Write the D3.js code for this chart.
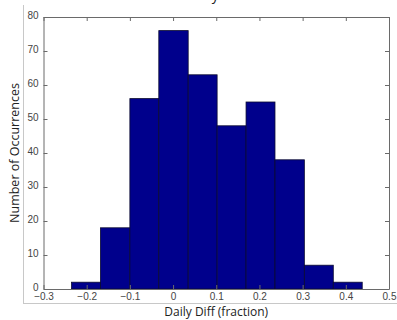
<!DOCTYPE html>
<html>
<head>
<meta charset="utf-8">
<script src="https://cdn.jsdelivr.net/npm/d3@7"></script>
<style>
  body { margin: 0; background: #fff; }
  svg { display: block; }
</style>
</head>
<body>
<div id="chart"></div>
<script>
// histogram bin edges (fraction) and counts per bin
const binEdges = [-0.235, -0.168, -0.100, -0.033, 0.035, 0.102, 0.169, 0.236, 0.304, 0.371, 0.438];
const counts = [2, 18, 56, 76, 63, 48, 55, 38, 7, 2];
const xTicks = [-0.3, -0.2, -0.1, 0, 0.1, 0.2, 0.3, 0.4, 0.5];
const yTicks = [0, 10, 20, 30, 40, 50, 60, 70, 80];

const width = 397, height = 320;
const margin = {top: 17, right: 8, bottom: 31, left: 43.5};
const innerW = width - margin.left - margin.right;
const innerH = height - margin.top - margin.bottom;

const svg = d3.select("#chart").append("svg")
  .attr("width", width)
  .attr("height", height);

// screenshot frame lines
svg.append("line").attr("x1", 23.5).attr("x2", 23.5).attr("y1", 5).attr("y2", 304)
  .attr("stroke", "#c8c8c8");
svg.append("line").attr("x1", 23.5).attr("x2", width).attr("y1", 303.5).attr("y2", 303.5)
  .attr("stroke", "#c8c8c8");

const g = svg.append("g")
  .attr("transform", "translate(" + margin.left + "," + margin.top + ")");

const x = d3.scaleLinear().domain([-0.3, 0.5]).range([0, innerW]);
const y = d3.scaleLinear().domain([0, 80]).range([innerH, 0]);

const bins = counts.map((c, i) => ({x0: binEdges[i], x1: binEdges[i + 1], value: c}));

g.selectAll("rect.bar")
  .data(bins)
  .enter()
  .append("rect")
  .attr("class", "bar")
  .attr("x", d => x(d.x0))
  .attr("y", d => y(d.value))
  .attr("width", d => x(d.x1) - x(d.x0))
  .attr("height", d => innerH - y(d.value))
  .attr("fill", "#00008c")
  .attr("stroke", "#0a0a30")
  .attr("stroke-width", 0.8);

const fmt = d => d === 0 ? "0" : d3.format(".1f")(d);

// axes, ticks pointing inward
const xAxis = g.append("g")
  .attr("transform", "translate(0," + innerH + ")")
  .call(d3.axisBottom(x).tickValues(xTicks).tickFormat(fmt).tickSizeInner(-4).tickSizeOuter(0).tickPadding(4));
const xTop = g.append("g")
  .call(d3.axisTop(x).tickValues(xTicks).tickFormat("").tickSizeInner(-4).tickSizeOuter(0));
const yAxis = g.append("g")
  .call(d3.axisLeft(y).tickValues(yTicks).tickSizeInner(-4).tickSizeOuter(0).tickPadding(5));
const yRight = g.append("g")
  .attr("transform", "translate(" + innerW + ",0)")
  .call(d3.axisRight(y).tickValues(yTicks).tickFormat("").tickSizeInner(-4).tickSizeOuter(0));

[xAxis, xTop, yAxis, yRight].forEach(a => {
  a.select(".domain").attr("stroke", "#6a6a6a");
  a.selectAll(".tick line").attr("stroke", "#6a6a6a");
  a.selectAll("text")
    .attr("fill", "#444")
    .style("font-family", "'Liberation Sans', Arial, sans-serif")
    .style("font-size", "10px");
});
yAxis.selectAll("text").attr("dy", "0.1em");

// labels
svg.append("text")
  .attr("x", margin.left + innerW / 2)
  .attr("y", 316)
  .attr("text-anchor", "middle")
  .style("font-family", "'Open Sans', 'Noto Sans', sans-serif")
  .style("font-size", "12px")
  .attr("fill", "#222")
  .text("Daily Diff (fraction)");

svg.append("text")
  .attr("transform", "translate(19," + (margin.top + innerH / 2) + ") rotate(-90)")
  .attr("text-anchor", "middle")
  .style("font-family", "'Open Sans', 'Noto Sans', sans-serif")
  .style("font-size", "12.5px")
  .attr("fill", "#222")
  .text("Number of Occurrences");

// title, cut off at the top edge (only the descender shows)
svg.append("text")
  .attr("x", margin.left + innerW / 2)
  .attr("y", -0.5)
  .attr("text-anchor", "middle")
  .style("font-family", "'Open Sans', 'Noto Sans', sans-serif")
  .style("font-size", "14px")
  .attr("fill", "#222")
  .text("Daily Diff");
</script>
</body>
</html>
